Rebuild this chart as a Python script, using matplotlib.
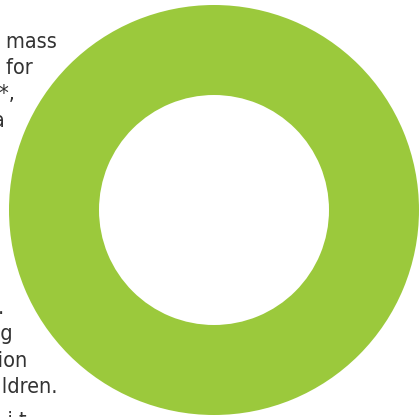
import matplotlib
matplotlib.use("Agg")
import matplotlib.pyplot as plt

# Data
labels = ["Share"]
values = [100]
colors = ["#9BC93C"]

# Background text fragments (cut off at left edge in reference)
text_lines = ["e mass", "e for", "s*,", "a", ".", "ng", "tion", "hildren.", "n i t"]
text_right = [57, 33, 16, 5, 4, 13, 28, 58, 27]
text_base = [48, 74, 100, 127, 314, 340, 367, 393, 427]

fig = plt.figure(figsize=(4.2, 4.17), dpi=100)
ax = fig.add_axes([0, 0, 1, 1])

for t, xr, yb in zip(text_lines, text_right, text_base):
    ax.text(xr, yb, t, ha="right", va="baseline", fontsize=15.5,
            color="#333333", family="DejaVu Sans", fontstretch="condensed",
            zorder=1)

ax.pie(values, labels=None, colors=colors, center=(214, 210), radius=205,
       startangle=90, counterclock=False,
       wedgeprops=dict(width=90, edgecolor="none", linewidth=0), frame=True)
for p in ax.patches:
    p.set_zorder(2)
ax.set_xlim(0, 420)
ax.set_ylim(417, 0)
ax.set_aspect("auto")
ax.axis("off")

fig.savefig("out.png", dpi=100)
